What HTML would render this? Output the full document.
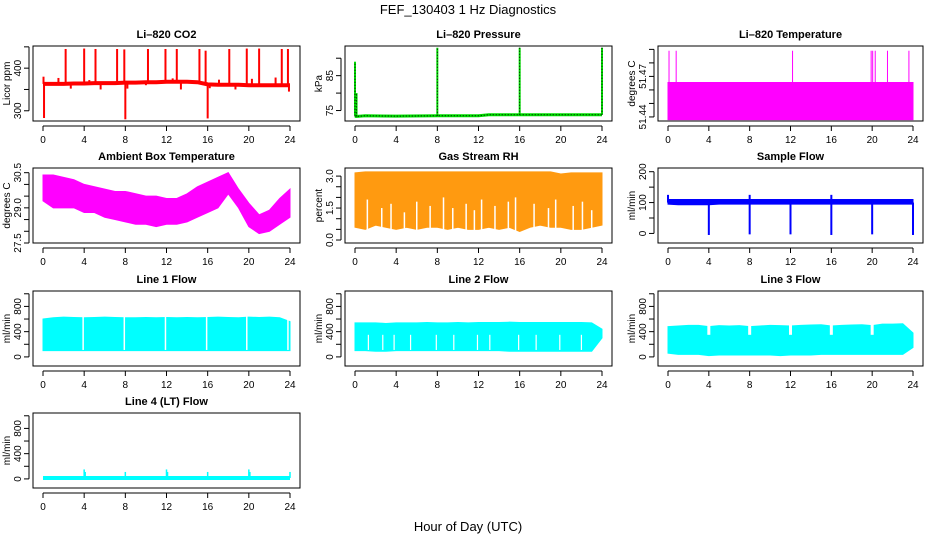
<!DOCTYPE html>
<html><head><meta charset="utf-8"><style>
html,body{margin:0;padding:0;background:#fff;}
svg{display:block;font-family:"Liberation Sans",sans-serif;}
</style></head><body>
<svg id="c" width="936" height="540" viewBox="0 0 936 540">
<text x="468" y="14" text-anchor="middle" font-size="13">FEF_130403  1 Hz Diagnostics</text>
<text x="468" y="531" text-anchor="middle" font-size="13">Hour of Day (UTC)</text>
</svg>
<script>
// ---------- data ----------
const xTicks = [0,4,8,12,16,20,24];
const hours = [0,1,2,3,4,5,6,7,8,9,10,11,12,13,14,15,16,17,18,19,20,21,22,23,24];

const co2Base = [363,363,363,364,364,365,365,365,366,366,367,367,368,368,368,367,362,361,361,361,360,360,360,360,360];
const co2SpikeHours = [0.05,0.1,1.5,2.2,2.7,4.0,4.5,5.1,5.6,7.2,7.9,8.0,8.2,10.0,10.2,11.9,12.6,13.0,13.4,15.2,15.8,16.0,16.2,17.1,18.1,18.7,19.8,20.3,21.0,21.6,22.6,23.2,23.8,23.9];
const co2SpikeVals = [380,283,377,445,352,446,372,445,350,445,444,280,352,360,445,445,376,445,350,445,441,282,353,373,445,350,446,375,446,356,378,445,445,345];

const pressHours = [0,0.1,1,4,8,12,13,16,20,24];
const pressBase = [73.5,73.3,73.5,73.4,73.5,73.5,73.8,73.8,73.8,73.8];
const pressSpikeHours = [0,0.15,8,16,24];
const pressSpikeVals = [89,80,93,93,93];

const tempLow = [51.438,51.438];
const tempHigh = [51.4655,51.4655];
const tempRange = [0,24];
const tempSpikeHours = [0.1,0.8,12.2,19.9,20.05,20.3,21.5,23.6];
const tempSpikeVal = 51.489;

const ambMax = [30.4,30.4,30.3,30.2,30.0,29.9,29.8,29.7,29.7,29.6,29.5,29.5,29.4,29.4,29.6,29.9,30.1,30.3,30.5,29.8,29.2,28.7,28.9,29.4,29.8];
const ambMin = [29.3,29.0,29.0,29.0,28.8,28.8,28.6,28.5,28.4,28.3,28.3,28.2,28.3,28.3,28.4,28.6,28.8,29.0,29.6,29.0,28.2,27.9,28.0,28.3,28.6];

const rhMax = [3.15,3.2,3.2,3.2,3.2,3.2,3.2,3.2,3.2,3.2,3.2,3.2,3.2,3.2,3.2,3.2,3.2,3.2,3.2,3.2,3.1,3.15,3.15,3.15,3.15];
const rhMin = [0.6,0.5,0.7,0.6,0.5,0.6,0.5,0.6,0.6,0.5,0.6,0.5,0.5,0.6,0.5,0.6,0.4,0.6,0.7,0.6,0.6,0.5,0.5,0.6,0.7];
const rhGapHours = [1.2,2.6,3.5,4.8,6.0,7.3,8.6,9.5,10.8,11.6,12.3,13.6,14.9,15.6,17.4,18.8,19.5,21.2,22.1,23.0];
const rhGapTops = [1.9,1.5,1.7,1.3,1.8,1.6,2.0,1.5,1.7,1.4,1.9,1.6,1.8,2.0,1.7,1.5,1.9,1.6,1.8,1.4];

const sflowHi = [110,110,110,110,110,110,110,110,110,110,110,110,110,110,110,110,110,110,110,110,110,110,110,110,110];
const sflowLo = [95,93,93,93,93,95,95,95,95,95,95,95,95,95,95,95,95,95,95,95,95,95,95,95,95];
const sflowDipHours = [4,8,12,16,20,24];
const sflowDipVals = [-5,-3,-3,-5,-3,-5];
const sflowSpikeHours = [0,8,16];
const sflowSpikeVals = [125,125,125];

const line1Max = [600,620,630,625,620,625,630,625,620,620,625,620,625,620,625,620,625,630,625,620,630,625,630,620,560];
const line1Min = [100,100,100,100,100,100,100,100,100,100,100,100,100,100,100,100,100,100,100,100,100,100,100,100,100];
const line1GapHours = [3.9,7.9,11.9,15.9,19.8,23.8];

const line2Max = [540,540,540,530,540,540,540,545,540,540,545,540,545,545,545,550,545,545,545,545,545,545,545,540,440];
const line2Min = [100,100,90,90,100,100,100,100,100,100,100,100,100,100,100,90,90,90,90,90,90,90,90,90,300];
const line2GapHours = [1.3,2.7,3.8,5.4,7.9,9.6,11.9,13.1,15.9,17.6,19.9,22.0];

const line3Max = [480,490,500,500,480,495,490,495,480,490,500,495,490,500,505,510,490,500,505,510,495,520,520,525,380];
const line3Min = [60,40,40,40,20,30,30,30,30,30,30,20,30,30,30,40,40,40,40,40,40,40,40,40,150];
const line3NotchHours = [4,8,12,16,20];
const line3NotchTop = 350;

const line4Base = [15,15];
const line4Range = [0,24];
const line4SpikeHours = [4,4.1,8,12,12.1,16,20,20.1,24];
const line4SpikeVals = [150,110,110,150,110,110,150,110,110];

// ---------- layout ----------
const NS = "http://www.w3.org/2000/svg";
const svg = document.getElementById('c');
const cols = [[33,300],[345,612],[658,923]];
const rows = [[46,121],[168,243],[291,366],[413,488]];

function mk(tag, attrs, parent){
  const e = document.createElementNS(NS, tag);
  for (const k in attrs) e.setAttribute(k, attrs[k]);
  (parent||svg).appendChild(e);
  return e;
}

function panel(ci, ri, title, ylab, ylim, yticks, ylabels, name){
  const [L,R] = cols[ci], [T,B] = rows[ri];
  const g = mk('g', {});
  
  
  const xs = h => L + 10 + (h/24)*(R-L-20);
  const ys = v => B - (v-ylim[0])/(ylim[1]-ylim[0])*(B-T);
  const t = mk('text', {x:(L+R)/2, y:T-8, 'text-anchor':'middle', 'font-size':11, 'font-weight':'bold'}, g);
  t.textContent = title;
  
  
  const yl = mk('text', {x:L-23, y:(T+B)/2, 'text-anchor':'middle', 'font-size':10, transform:`rotate(-90 ${L-23} ${(T+B)/2})`}, g);
  yl.textContent = ylab;
  
  
  const plot = mk('g', {}, g);
  
  
  const fr = mk('rect', {x:L, y:T, width:R-L, height:B-T, fill:'none', stroke:'#000', 'stroke-width':1}, g);
  
  
  // x axis
  mk('line', {x1:xs(0), x2:xs(24), y1:B+5, y2:B+5, stroke:'#000'}, g);
  xTicks.forEach(h=>{
    mk('line', {x1:xs(h), x2:xs(h), y1:B+5, y2:B+10, stroke:'#000'}, g);
    const lt = mk('text', {x:xs(h), y:B+22, 'text-anchor':'middle', 'font-size':10}, g);
    lt.textContent = h;
    
    
  });
  // y axis
  const yv = yticks.filter(v=>ys(v)>=T-1 && ys(v)<=B+1);
  mk('line', {x1:L-4, x2:L-4, y1:ys(yv[0]), y2:ys(yv[yv.length-1]), stroke:'#000'}, g);
  yticks.forEach((v,i)=>{
    const y = ys(v);
    mk('line', {x1:L-9, x2:L-4, y1:y, y2:y, stroke:'#000'}, g);
    if (ylabels[i] !== '') {
      const lt = mk('text', {x:L-12, y:y, 'text-anchor':'middle', 'font-size':10, transform:`rotate(-90 ${L-12} ${y})`}, g);
      lt.textContent = ylabels[i];
      
      
    }
  });
  const clip = 'clip' + name;
  const cp = mk('clipPath', {id:clip}, g);
  mk('rect', {x:L, y:T, width:R-L, height:B-T}, cp);
  plot.setAttribute('clip-path', `url(#${clip})`);
  return {xs, ys, plot};
}

function envelope(p, hs, lo, hi, color, name){
  let d = 'M' + hs.map((h,i)=>p.xs(h)+','+p.ys(hi[i])).join(' L');
  d += ' L' + hs.slice().reverse().map((h,j)=>{const i=hs.length-1-j; return p.xs(h)+','+p.ys(lo[i]);}).join(' L') + ' Z';
  const e = mk('path', {d, fill:color, stroke:color, 'stroke-width':1}, p.plot);
  
  
  return e;
}
function vseg(p, h, v0, v1, color, w, name){
  const e = mk('line', {x1:p.xs(h), x2:p.xs(h), y1:p.ys(v0), y2:p.ys(v1), stroke:color, 'stroke-width':w}, p.plot);
  
  
  return e;
}
function polyline(p, hs, vs, color, w, name, dash){
  const e = mk('polyline', {points:hs.map((h,i)=>p.xs(h)+','+p.ys(vs[i])).join(' '), fill:'none', stroke:color, 'stroke-width':w}, p.plot);
  if (dash) e.setAttribute('stroke-dasharray', dash);
  
  
  return e;
}
function interp(hs, vs, h){
  for (let i=0;i<hs.length-1;i++) if (h>=hs[i] && h<=hs[i+1]) return vs[i]+(vs[i+1]-vs[i])*(h-hs[i])/(hs[i+1]-hs[i]);
  return vs[vs.length-1];
}

// 1 CO2
let p = panel(0,0,'Li\u2013820 CO2','Licor ppm',[276,452],[300,350,400,450],['300','','400',''],'co2');
polyline(p, hours, co2Base, '#ff0000', 4, 'co2-series');
co2SpikeHours.forEach((h,i)=>vseg(p,h,interp(hours,co2Base,h),co2SpikeVals[i],'#ff0000',2,'co2-spike'));

// 2 Pressure
p = panel(1,0,'Li\u2013820 Pressure','kPa',[72,93.5],[75,80,85,90],['75','','85',''],'pressure');
polyline(p, pressHours, pressBase, '#00dd00', 3, 'pressure-series');
polyline(p, pressHours, pressBase, '#000', 1, 'pressure-series-dotted', '1,2');
pressSpikeHours.forEach((h,i)=>{vseg(p,h,interp(pressHours,pressBase,h),pressSpikeVals[i],'#00dd00',2,'pressure-spike');
  vseg(p,h,interp(pressHours,pressBase,h),pressSpikeVals[i],'#000',1,'pressure-spike-dotted').setAttribute('stroke-dasharray','1,2');});

// 3 Li-820 Temperature
p = panel(2,0,'Li\u2013820 Temperature','degrees C',[51.437,51.4925],[51.44,51.45,51.46,51.47,51.48,51.49],['51.44','','','51.47','',''],'li820-temp');
envelope(p, tempRange, tempLow, tempHigh, '#ff00ff', 'li820-temp-series');
tempSpikeHours.forEach(h=>vseg(p,h,tempHigh[0],tempSpikeVal,'#ff00ff',1,'li820-temp-spike'));

// 4 Ambient
p = panel(0,1,'Ambient Box Temperature','degrees C',[27.5,30.7],[27.5,28,28.5,29,29.5,30,30.5],['27.5','','','29.0','','','30.5'],'ambient-temp');
envelope(p, hours, ambMin, ambMax, '#ff00ff', 'ambient-temp-series');

// 5 RH
p = panel(1,1,'Gas Stream RH','percent',[-0.14,3.38],[0,0.5,1,1.5,2,2.5,3],['0.0','','','1.5','','','3.0'],'gas-rh');
envelope(p, hours, rhMin, rhMax, '#ff9a10', 'gas-rh-series');
rhGapHours.forEach((h,i)=>vseg(p,h,-0.2,rhGapTops[i],'#ffffff',1.5,'gas-rh-gap'));

// 6 Sample flow
p = panel(2,1,'Sample Flow','ml/min',[-31,212],[0,50,100,150,200],['0','','100','','200'],'sample-flow');
envelope(p, hours, sflowLo, sflowHi, '#0000ff', 'sample-flow-series');
sflowDipHours.forEach((h,i)=>vseg(p,h,100,sflowDipVals[i],'#0000ff',2,'sample-flow-dip'));
sflowSpikeHours.forEach((h,i)=>vseg(p,h,100,sflowSpikeVals[i],'#0000ff',2,'sample-flow-spike'));

const flowTicks = [0,200,400,600,800,1000];
const flowLabels = ['0','','400','','800',''];
const flowLim = [-144,1044];
// 7 Line 1
p = panel(0,2,'Line 1 Flow','ml/min',flowLim,flowTicks,flowLabels,'line1-flow');
envelope(p, hours, line1Min, line1Max, '#00ffff', 'line1-flow-series');
line1GapHours.forEach(h=>vseg(p,h,110,640,'#ffffff',1.5,'line1-flow-gap'));
// 8 Line 2
p = panel(1,2,'Line 2 Flow','ml/min',flowLim,flowTicks,flowLabels,'line2-flow');
envelope(p, hours, line2Min, line2Max, '#00ffff', 'line2-flow-series');
line2GapHours.forEach(h=>vseg(p,h,110,350,'#ffffff',1.2,'line2-flow-gap'));
// 9 Line 3
p = panel(2,2,'Line 3 Flow','ml/min',flowLim,flowTicks,flowLabels,'line3-flow');
envelope(p, hours, line3Min, line3Max, '#00ffff', 'line3-flow-series');
line3NotchHours.forEach(h=>{
  const r = mk('rect',{x:p.xs(h)-1.5, y:p.ys(560), width:3, height:p.ys(line3NotchTop)-p.ys(560), fill:'#fff'}, p.plot);
  
  
});
// 10 Line 4
p = panel(0,3,'Line 4 (LT) Flow','ml/min',flowLim,flowTicks,flowLabels,'line4-flow');
polyline(p, line4Range, line4Base, '#00ffff', 4, 'line4-flow-series');
line4SpikeHours.forEach((h,i)=>vseg(p,h,line4Base[0],line4SpikeVals[i],'#00ffff',1.5,'line4-flow-spike'));
</script>
</body></html>
